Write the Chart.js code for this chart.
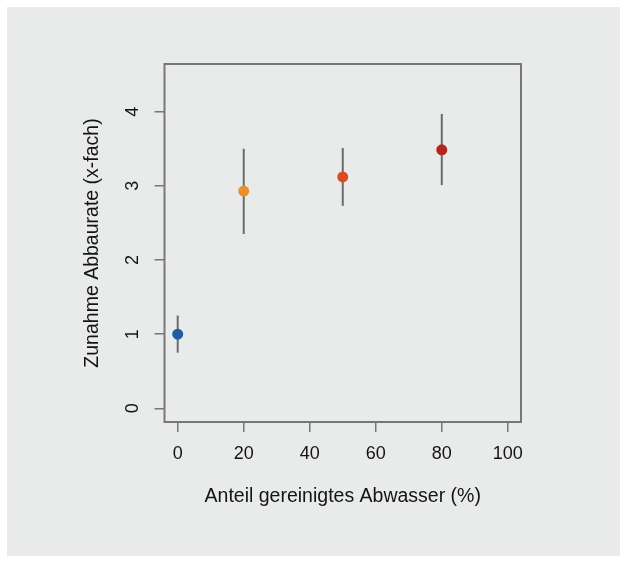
<!DOCTYPE html>
<html>
<head>
<meta charset="utf-8">
<script src="https://cdn.jsdelivr.net/npm/chart.js@4/dist/chart.umd.min.js"></script>
<style>
  html, body { margin: 0; padding: 0; background: #ffffff; }
  canvas { display: block; }
</style>
</head>
<body>
<canvas id="c" width="626" height="563"></canvas>
<script>
// ---- data ----
const categories = [0, 20, 50, 80];          // Anteil gereinigtes Abwasser (%)
const means      = [1.0, 2.93, 3.12, 3.485]; // Zunahme Abbaurate (x-fach)
const lower      = [0.75, 2.35, 2.73, 3.01];
const upper      = [1.25, 3.50, 3.51, 3.97];
const xTicks = [0, 20, 40, 60, 80, 100];
const yTicks = [0, 1, 2, 3, 4];
const xTitle = 'Anteil gereinigtes Abwasser (%)';
const yTitle = 'Zunahme Abbaurate (x-fach)';

// ---- styles ----
const pointColors = ['#1f5ca6', '#e6912c', '#dc4b20', '#b3261f'];
const BG = '#e9eaea';
const FONT = "'Liberation Sans', Arial, sans-serif";
const TEXT = '#141414';
const AXIS = '#777777';

const points = categories.map((x, i) => ({ x: x, y: means[i] }));

const backgroundPlugin = {
  id: 'bg',
  beforeDraw(chart) {
    const ctx = chart.ctx;
    ctx.save();
    ctx.fillStyle = '#ffffff';
    ctx.fillRect(0, 0, chart.width, chart.height);
    ctx.fillStyle = BG;
    ctx.fillRect(7, 7, 613, 549);
    ctx.restore();
  }
};

const errorBarPlugin = {
  id: 'errbars',
  beforeDatasetsDraw(chart) {
    const ctx = chart.ctx;
    const xs = chart.scales.x, ys = chart.scales.y;
    ctx.save();
    ctx.strokeStyle = '#6a6a6a';
    ctx.lineWidth = 2;
    categories.forEach((c, i) => {
      const px = xs.getPixelForValue(c);
      ctx.beginPath();
      ctx.moveTo(px, ys.getPixelForValue(lower[i]));
      ctx.lineTo(px, ys.getPixelForValue(upper[i]));
      ctx.stroke();
    });
    ctx.restore();
  }
};

const boxPlugin = {
  id: 'box',
  afterDraw(chart) {
    const ctx = chart.ctx;
    const a = chart.chartArea;
    const ys = chart.scales.y;
    ctx.save();
    ctx.strokeStyle = AXIS;
    ctx.lineWidth = 2;
    ctx.strokeRect(a.left, a.top, a.right - a.left, a.bottom - a.top);
    // y tick labels, rotated as in the original
    ctx.fillStyle = TEXT;
    ctx.font = '18px ' + FONT;
    ctx.textAlign = 'center';
    ctx.textBaseline = 'middle';
    ys.ticks.forEach(t => {
      const py = ys.getPixelForValue(t.value);
      ctx.save();
      ctx.translate(133, py);
      ctx.rotate(-Math.PI / 2);
      ctx.fillText(String(t.value), 0, 0);
      ctx.restore();
    });
    ctx.restore();
  }
};

new Chart(document.getElementById('c'), {
  type: 'scatter',
  data: {
    datasets: [{
      data: points,
      pointRadius: 5.5,
      pointHoverRadius: 5.5,
      pointBackgroundColor: pointColors,
      pointBorderWidth: 0,
      borderWidth: 0
    }]
  },
  options: {
    responsive: false,
    animation: false,
    devicePixelRatio: 1,
    layout: { padding: { left: 0, top: 64, right: 105, bottom: 0 } },
    plugins: { legend: { display: false }, tooltip: { enabled: false } },
    scales: {
      x: {
        type: 'linear',
        min: -4, max: 104,
        afterBuildTicks: s => { s.ticks = xTicks.map(v => ({ value: v })); },
        afterFit: s => { s.height = 141; },
        border: { display: false },
        grid: { drawOnChartArea: false, drawTicks: true, tickLength: 10, tickColor: AXIS, lineWidth: 1.5 },
        ticks: { color: TEXT, font: { family: FONT, size: 18 }, padding: 11, maxRotation: 0, autoSkip: false },
        title: { display: true, text: xTitle, color: TEXT, font: { family: FONT, size: 19.5 }, padding: { top: 0, bottom: 55 } }
      },
      y: {
        type: 'linear',
        min: -0.185, max: 4.643,
        afterBuildTicks: s => { s.ticks = yTicks.map(v => ({ value: v })); },
        afterFit: s => { s.width = 164.5; },
        border: { display: false },
        grid: { drawOnChartArea: false, drawTicks: true, tickLength: 10, tickColor: AXIS, lineWidth: 1.5 },
        ticks: { display: false },
        title: { display: true, text: yTitle, color: TEXT, font: { family: FONT, size: 19.5 }, padding: { top: 81, bottom: 0 } }
      }
    }
  },
  plugins: [backgroundPlugin, errorBarPlugin, boxPlugin]
});
</script>
</body>
</html>
